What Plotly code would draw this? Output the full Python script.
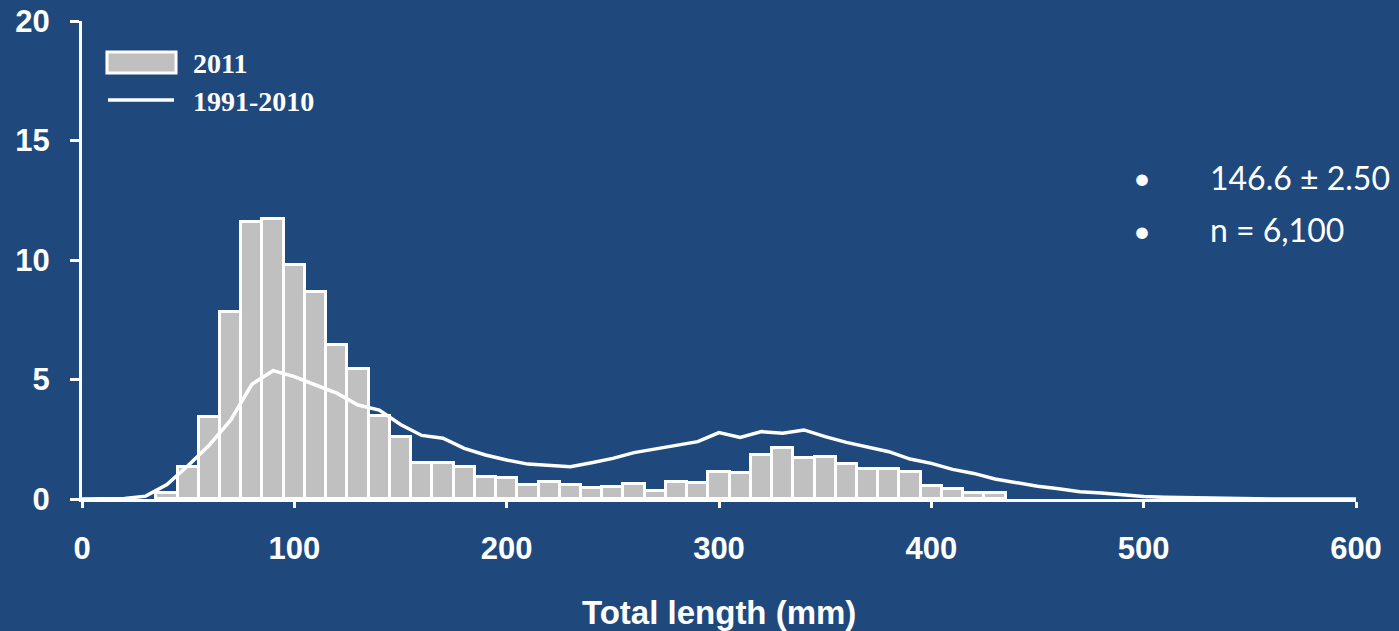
import plotly.graph_objects as go

# ---- data ----
bin_centers = [40, 50, 60, 70, 80, 90, 100, 110, 120, 130, 140, 150, 160, 170, 180, 190,
               200, 210, 220, 230, 240, 250, 260, 270, 280, 290, 300, 310, 320, 330, 340,
               350, 360, 370, 380, 390, 400, 410, 420, 430]
pct_2011 = [0.25, 1.34, 3.43, 7.84, 11.6, 11.7, 9.79, 8.67, 6.44, 5.44, 3.49, 2.59, 1.52, 1.52,
            1.35, 0.93, 0.86, 0.59, 0.70, 0.57, 0.45, 0.52, 0.63, 0.35, 0.73, 0.65, 1.14, 1.08,
            1.84, 2.12, 1.73, 1.74, 1.46, 1.24, 1.24, 1.14, 0.54, 0.42, 0.24, 0.24]

hist_x = [0, 10, 20, 30, 40, 50, 60, 70, 80, 90, 100, 110, 120, 130, 140, 150, 160, 170, 180,
          190, 200, 210, 220, 230, 240, 250, 260, 270, 280, 290, 300, 310, 320, 330, 340, 350,
          360, 370, 380, 390, 400, 410, 420, 430, 440, 450, 460, 470, 480, 490, 500, 510, 520,
          530, 540, 550, 560, 570, 580, 590, 600]
pct_1991_2010 = [0, 0, 0.02, 0.12, 0.6, 1.4, 2.26, 3.3, 4.8, 5.37, 5.12, 4.77, 4.43, 3.93, 3.72,
                 3.12, 2.66, 2.54, 2.12, 1.84, 1.63, 1.46, 1.39, 1.35, 1.52, 1.70, 1.94, 2.09,
                 2.22, 2.40, 2.78, 2.58, 2.82, 2.75, 2.89, 2.61, 2.37, 2.19, 1.98, 1.67, 1.49,
                 1.24, 1.07, 0.84, 0.68, 0.53, 0.43, 0.30, 0.25, 0.16, 0.10, 0.07, 0.05, 0.03,
                 0.02, 0.01, 0, 0, 0, 0, 0]

x_ticks = [0, 100, 200, 300, 400, 500, 600]
y_ticks = [0, 5, 10, 15, 20]
legend_labels = ["2011", "1991-2010"]
stats_lines = ["146.6 ± 2.50", "n = 6,100"]
x_title = "Total length (mm)"

BG = "#1F497D"
BAR = "#C0C0C0"
WHITE = "#FFFFFF"
SANS_B = dict(family="Liberation Sans, Arial", size=31, color=WHITE, weight="bold")

fig = go.Figure()
fig.add_trace(go.Bar(x=bin_centers, y=pct_2011, width=10, name=legend_labels[0],
                     marker=dict(color=BAR, line=dict(color=WHITE, width=3)),
                     showlegend=False))
fig.add_trace(go.Scatter(x=hist_x, y=pct_1991_2010, mode="lines", name=legend_labels[1],
                         line=dict(color=WHITE, width=3.5), showlegend=False))

fig.update_layout(
    width=1399, height=631,
    margin=dict(l=82, r=43, t=21, b=132),
    paper_bgcolor=BG, plot_bgcolor=BG,
    bargap=0,
    xaxis=dict(range=[0, 600], tickvals=x_ticks, ticktext=[str(v) for v in x_ticks],
               showgrid=False, zeroline=False, showline=True, linecolor=WHITE, linewidth=3,
               ticks="outside", tickcolor=WHITE, tickwidth=3, ticklen=6, automargin=False,
               ticklabelstandoff=14, tickfont=SANS_B),
    yaxis=dict(range=[0, 20], tickvals=y_ticks, ticktext=[str(v) for v in y_ticks],
               showgrid=False, zeroline=False, showline=True, linecolor=WHITE, linewidth=3,
               ticks="outside", tickcolor=WHITE, tickwidth=3, ticklen=9, automargin=False,
               ticklabelstandoff=14, tickfont=SANS_B),
)

# axis title
fig.add_annotation(text=x_title, xref="paper", yref="paper", x=0.5, y=-0.238,
                   showarrow=False, xanchor="center", yanchor="middle",
                   font=dict(family="Liberation Sans, Arial", size=33, color=WHITE, weight="bold"))

# custom legend
fig.add_shape(type="rect", xref="paper", yref="paper", x0=0.0196, x1=0.0738, y0=0.891, y1=0.935,
              fillcolor=BAR, line=dict(color=WHITE, width=3))
fig.add_shape(type="line", xref="paper", yref="paper", x0=0.0204, x1=0.0722, y0=0.8347, y1=0.8347,
              line=dict(color=WHITE, width=3.5))
for lab, yy in zip(legend_labels, [0.912, 0.8326]):
    fig.add_annotation(text=lab, xref="paper", yref="paper", x=0.0856, y=yy, showarrow=False,
                       xanchor="left", yanchor="middle",
                       font=dict(family="Liberation Serif, Times New Roman", size=28,
                                 color=WHITE, weight="bold"))

# stats bullets
for txt, yy in zip(stats_lines, [0.6736, 0.5628]):
    fig.add_annotation(text="•", xref="paper", yref="paper", x=0.832, y=yy, showarrow=False,
                       xanchor="center", yanchor="middle",
                       font=dict(family="Lato", size=31, color=WHITE))
    fig.add_annotation(text=txt, xref="paper", yref="paper", x=0.884, y=yy, showarrow=False,
                       xanchor="left", yanchor="middle",
                       font=dict(family="Lato", size=32, color=WHITE))

fig.write_html("out.html", config={"displayModeBar": False},
               post_script="document.body.style.margin='0';document.body.style.overflow='hidden';")
